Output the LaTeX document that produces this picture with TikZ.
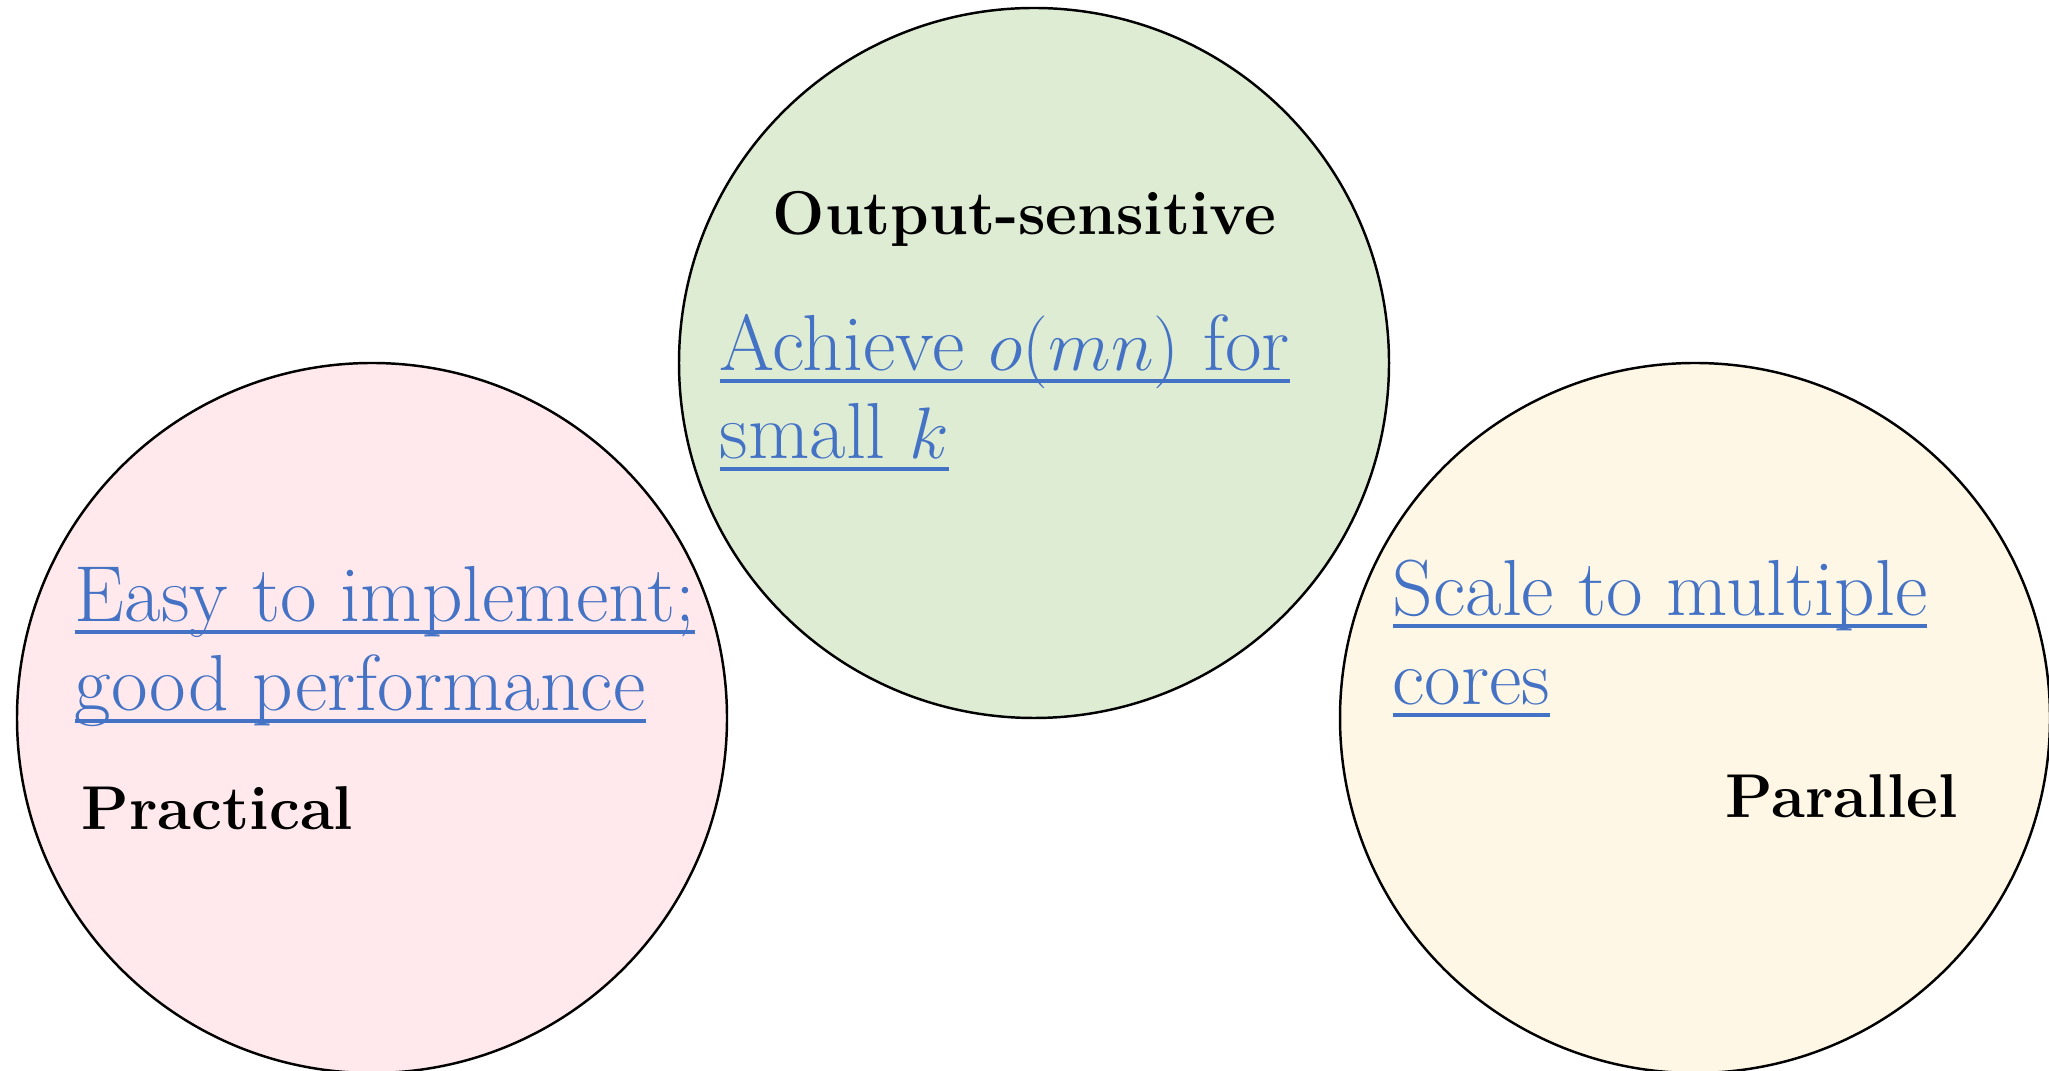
\documentclass[tikz,border=0pt]{standalone}
\usetikzlibrary{calc,positioning}

\definecolor{pinkfill}{RGB}{255,233,236}
\definecolor{greenfill}{RGB}{222,236,212}
\definecolor{yellowfill}{RGB}{255,247,229}
\definecolor{linkblue}{RGB}{68,114,196}

% underline at a fixed depth, descenders cross it
\newcommand{\linkline}[1]{\setbox0=\hbox{#1}\rlap{\rule[-0.15em]{\wd0}{0.055em}}\box0}

\tikzset{bubble/.style={draw=black, line width=0.7pt},
	linktext/.style={anchor=base west, inner sep=0pt, text=linkblue,
		font=\fontsize{22.6}{27}\selectfont},
	headtext/.style={anchor=base west, inner sep=0pt,
		font=\fontsize{17.6}{21}\selectfont\bfseries}}

\begin{document}
\begin{tikzpicture}[x=0.01cm, y=-0.01cm]
	\useasboundingbox (0,0) rectangle (2049,1071);
	
	\coordinate (cprac) at (372,718);
	\coordinate (cout) at (1034,363);
	\coordinate (cpar) at (1695,718);
	
	\draw[bubble, fill=pinkfill] (cprac) circle[radius=355];
	\draw[bubble, fill=greenfill] (cout) circle[radius=355];
	\draw[bubble, fill=yellowfill] (cpar) circle[radius=355];
	
	% output-sensitive
	\node (outsens) [headtext] at (772,235) {Output-sensitive};
	\node (achieve1) [linktext] at (719,371) {\linkline{Achieve $o(mn)$ for}};
	\node (achieve2) [linktext] at ($(achieve1.base west)+(0,88)$) {\linkline{small $k$}};
	
	% practical
	\node (easy1) [linktext] at (74,622) {\linkline{Easy to implement;}};
	\node (easy2) [linktext] at ($(easy1.base west)+(0,89)$) {\linkline{good performance}};
	\node (practical) [headtext] at (81,830) {Practical};
	
	% parallel
	\node (scale1) [linktext] at (1392,616) {\linkline{Scale to multiple}};
	\node (scale2) [linktext] at ($(scale1.base west)+(0,89)$) {\linkline{cores}};
	\node (parallel) [headtext] at (1725,818) {Parallel};
\end{tikzpicture}
\end{document}
